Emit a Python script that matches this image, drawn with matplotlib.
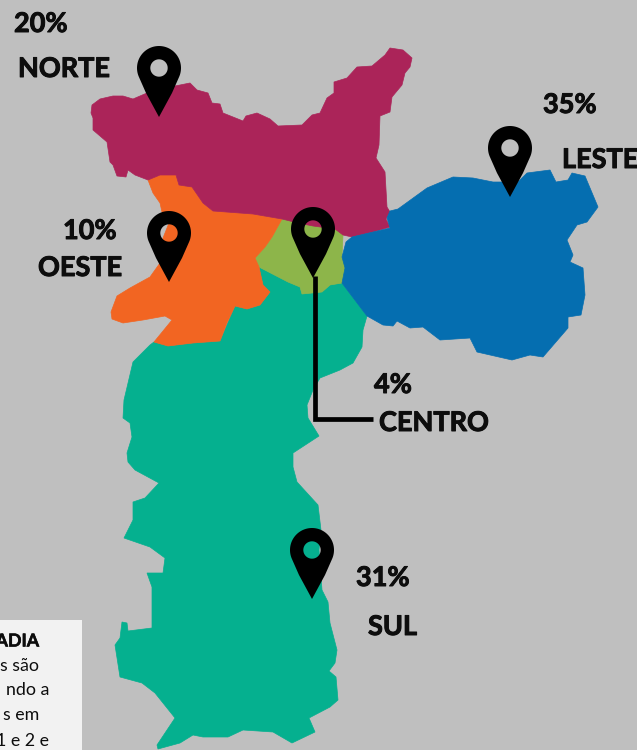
import matplotlib.pyplot as plt
import matplotlib.patheffects as pe
import numpy as np
from matplotlib.patches import PathPatch, Polygon, Rectangle
from matplotlib.path import Path

plt.rcParams['font.family'] = ['Lato', 'DejaVu Sans']

# outlines, in image pixels
norte = [(92,105),(100,99),(113,96),(123,96),(133,99),(147,93),(170,87),(190,83),(197,90),(208,93),
         (212,103),(220,104),(223,113),(233,117),(243,121),(246,116),(257,113),(270,119),(278,126),
         (302,125),(312,115),(320,113),(327,98),(334,93),(334,82),(347,78),(357,67),(372,66),(385,55),
         (390,48),(403,50),(412,58),(410,67),(405,73),(402,85),(392,97),(390,112),(380,116),(379,145),
         (376,158),(385,172),(387,207),(390,212),(386,219),(390,227),(373,232),(352,237),(343,235),
         (335,229),(313,226),(298,223),(282,219),(253,214),(213,211),(203,203),(192,187),(179,185),(176,175),
         (160,175),(148,180),(135,175),(128,170),(126,177),(117,176),(113,165),(110,162),(107,142),
         (93,130),(93,118),(91,113)]
oeste = [(148,180),(160,175),(176,175),(179,185),(192,187),(203,203),(213,211),(253,214),(282,219),
         (272,237),(265,247),(255,258),(259,267),(263,285),(270,292),(260,305),(247,309),(235,306),
         (227,323),(220,341),(193,343),(168,346),(154,342),(172,320),(165,316),(143,320),(123,323),
         (112,319),(111,312),(117,296),(130,288),(150,277),(160,263),(163,238),(169,223),(162,212),
         (160,203),(153,193)]
centro = [(282,219),(313,221),(335,227),(343,235),(342,257),(346,268),(342,283),(330,285),(322,292),
          (302,294),(300,287),(288,282),(259,267),(255,258),(265,247),(272,237)]
leste = [(342,257),(346,242),(352,237),(390,228),(387,218),(390,211),(398,209),(427,188),(453,177),
         (473,178),(493,182),(503,182),(517,183),(527,173),(550,170),(556,182),(568,180),(572,173),
         (585,176),(598,207),(587,222),(577,225),(567,240),(573,255),(570,262),(583,268),(585,295),
         (581,315),(568,317),(568,328),(543,357),(530,355),(512,360),(477,352),(470,338),(440,340),
         (423,327),(410,328),(397,321),(393,326),(383,325),(367,316),(342,283),(345,268)]
sul = [(154,342),(168,346),(193,343),(220,341),(235,306),(247,309),(260,305),(270,292),(263,285),
       (259,267),(288,282),(300,287),(302,294),(322,292),(330,285),(342,283),(367,316),(363,330),
       (362,347),(353,363),(340,370),(320,378),(313,390),(307,405),(308,418),(319,436),(293,453),
       (293,467),(297,482),(318,505),(321,530),(319,550),(322,590),(328,602),(330,623),(337,650),(335,663),
       (329,671),(336,677),(338,700),(330,707),(309,718),(315,732),(292,743),(273,732),(243,730),
       (228,737),(203,737),(193,735),(180,743),(158,749),(157,745),(175,718),(155,693),(142,683),
       (120,677),(115,645),(120,638),(122,622),(127,623),(128,631),(152,628),(152,587),(147,573),
       (163,573),(165,558),(150,547),(124,538),(133,520),(133,502),(145,498),(159,483),(135,470),
       (128,462),(127,453),(132,437),(130,423),(123,418),(124,400),(133,362),(150,345)]

pin_x = [159, 169, 313, 510, 312]
pin_y = [68, 233, 229, 148, 550]

labels = ["20%", "NORTE", "35%", "LESTE", "10%", "OESTE", "4%", "CENTRO", "31%", "SUL"]
label_x = [14, 18, 543, 562, 63, 38, 374, 379, 356, 368]
label_y = [24, 69, 105, 160, 231, 268, 385, 423, 578, 627]

note_lines = ["ADIA", "s são", "ndo a", "s em", "1 e 2 e"]
note_right = [39, 39, 49, 39, 49]
note_y = [641, 666, 690, 715, 741]


def pin_path(cx, cy, r=22, tip=49, hole=8.7):
    # teardrop with a round hole, the hole lets the map show through
    a = np.radians(np.linspace(-25, 205, 60))
    outer = list(zip(cx + r * np.cos(a), cy - r * np.sin(a))) + [(cx - 13, cy + 25), (cx, cy + tip), (cx + 13, cy + 25)]
    b = np.radians(np.linspace(0, 360, 40))
    inner = list(zip(cx + hole * np.cos(b), cy + hole * np.sin(b)))
    verts = outer + [outer[0]] + inner + [inner[0]]
    codes = ([Path.MOVETO] + [Path.LINETO] * (len(outer) - 1) + [Path.CLOSEPOLY]
             + [Path.MOVETO] + [Path.LINETO] * (len(inner) - 1) + [Path.CLOSEPOLY])
    return Path(verts, codes)


fig = plt.figure(figsize=(6.37, 7.5), dpi=100, facecolor="#bfbfbf")
ax = fig.add_axes([0, 0, 1, 1])
ax.set_xlim(0, 637)
ax.set_ylim(750, 0)
ax.axis("off")

for outline, colour in [(sul, "#05b08f"), (centro, "#8db54a"), (oeste, "#f26522"),
                        (norte, "#ab2459"), (leste, "#056eb0")]:
    ax.add_patch(Polygon(outline, closed=True, facecolor=colour, edgecolor=colour, linewidth=0.5))

ax.plot([315, 315, 373], [276, 419, 419], color="black", linewidth=3.4, solid_joinstyle="miter", solid_capstyle="butt")

for x, y in zip(pin_x, pin_y):
    ax.add_patch(PathPatch(pin_path(x, y), facecolor="black", edgecolor="none"))

heavy = [pe.withStroke(linewidth=0.7, foreground="#0d0d0d")]
for text, x, y in zip(labels, label_x, label_y):
    ax.text(x, y, text, fontsize=19.5, fontweight="bold", color="#0d0d0d", ha="left", va="center", path_effects=heavy)

ax.add_patch(Rectangle((0, 620), 82, 130, facecolor="#f2f2f2", edgecolor="none"))
for i, (text, x, y) in enumerate(zip(note_lines, note_right, note_y)):
    t = ax.text(x, y, text, fontsize=12.8, fontweight="bold" if i == 0 else "normal", color="#0d0d0d",
                ha="right", va="center", clip_on=True)
    if i == 0:
        t.set_path_effects([pe.withStroke(linewidth=0.4, foreground="#0d0d0d")])

fig.savefig("out.png", dpi=100, facecolor=fig.get_facecolor())
